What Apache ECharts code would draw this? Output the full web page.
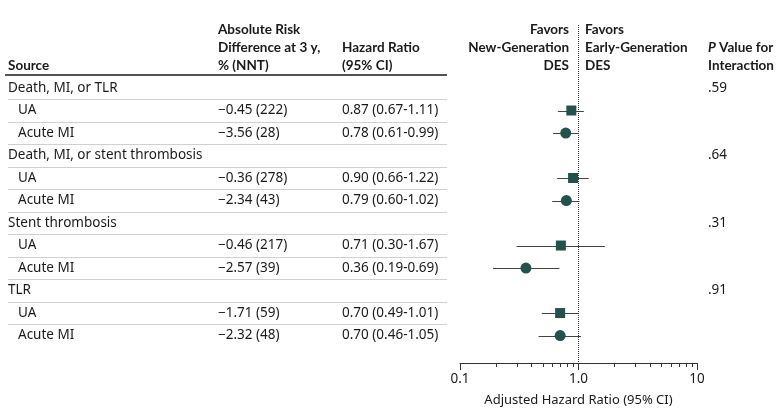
<!DOCTYPE html>
<html>
<head>
<meta charset="utf-8">
<script src="https://cdn.jsdelivr.net/npm/echarts@6/dist/echarts.min.js"></script>
<style>
html, body { margin: 0; padding: 0; background: #fff; }
#chartmain { width: 783px; height: 419px; }
</style>
</head>
<body>
<div id="chartmain"></div>
<script>
// data
var groups = ['Death, MI, or TLR', 'Death, MI, or stent thrombosis', 'Stent thrombosis', 'TLR'];
var pValues = ['.59', '.64', '.31', '.91'];
var subgroups = ['UA', 'Acute MI'];
var ardUA = ['\u22120.45 (222)', '\u22120.36 (278)', '\u22120.46 (217)', '\u22121.71 (59)'];
var ardAMI = ['\u22123.56 (28)', '\u22122.34 (43)', '\u22122.57 (39)', '\u22122.32 (48)'];
var hrUA = [0.87, 0.90, 0.71, 0.70];
var loUA = [0.67, 0.66, 0.30, 0.49];
var hiUA = [1.11, 1.22, 1.67, 1.01];
var hrAMI = [0.78, 0.79, 0.36, 0.70];
var loAMI = [0.61, 0.60, 0.19, 0.46];
var hiAMI = [0.99, 1.02, 0.69, 1.05];
var minorTicks = [0.2, 0.3, 0.4, 0.5, 0.6, 0.7, 0.8, 0.9, 2, 3, 4, 5, 6, 7, 8, 9];

var FONT = '"Noto Sans", sans-serif';
var HFONT = 'Lato, "Noto Sans", sans-serif';
var FS = 13.5;
var TXT = '#1a1a1a';
var MARK = '#24514d';
var yTop = -2.8, yAxisPos = 12.22;

function fmt(v) { return v.toFixed(2); }

// build table rows
var rows = [];
groups.forEach(function(g, i) {
	rows.push({ row: 3 * i, label: g, group: true, p: pValues[i] });
	rows.push({ row: 3 * i + 1, label: subgroups[0], ard: ardUA[i],
		hr: fmt(hrUA[i]) + ' (' + fmt(loUA[i]) + '-' + fmt(hiUA[i]) + ')' });
	rows.push({ row: 3 * i + 2, label: subgroups[1], ard: ardAMI[i],
		hr: fmt(hrAMI[i]) + ' (' + fmt(loAMI[i]) + '-' + fmt(hiAMI[i]) + ')' });
});

var ptsUA = [], ptsAMI = [], ciData = [];
for (var i = 0; i < groups.length; i++) {
	ptsUA.push([hrUA[i], 3 * i + 1]);
	ptsAMI.push([hrAMI[i], 3 * i + 2]);
	ciData.push([loUA[i], hiUA[i], 3 * i + 1]);
	ciData.push([loAMI[i], hiAMI[i], 3 * i + 2]);
}

function txt(text, x, y, opts) {
	opts = opts || {};
	var head = opts.weight === 'bold';
	return {
		type: 'text',
		style: {
			text: text, x: x, y: y,
			fill: TXT,
			font: head ? 'bold 13.5px ' + HFONT : 'normal ' + FS + 'px ' + FONT,
			align: opts.align || 'left',
			verticalAlign: 'middle',
			rich: opts.rich
		}
	};
}

var option = {
	animation: false,
	grid: { left: 460, right: 86, top: 25, bottom: 56 },
	xAxis: {
		type: 'log', logBase: 10, min: 0.1, max: 10,
		axisLine: { onZero: false, lineStyle: { color: '#333', width: 1 } },
		axisTick: { show: true, length: 7, lineStyle: { color: '#333' } },
		splitLine: { show: false },
		axisLabel: {
			color: TXT, fontSize: FS, fontFamily: FONT, margin: 9,
			formatter: function(v) { return v === 1 ? '1.0' : String(v); }
		},
		name: 'Adjusted Hazard Ratio (95% CI)',
		nameLocation: 'middle', nameGap: 31,
		nameTextStyle: { color: TXT, fontSize: 13, fontFamily: FONT }
	},
	yAxis: {
		type: 'value', inverse: true, min: yTop, max: yAxisPos,
		show: false
	},
	series: [
		{
			// table text, separators and header
			type: 'custom', clip: false, silent: true,
			data: rows.map(function(r) { return [1, r.row]; }),
			renderItem: function(params, api) {
				var r = rows[params.dataIndex];
				var y = api.coord([1, r.row])[1];
				var step = api.size([0, 1])[1];
				var children = [];
				if (r.group) {
					children.push(txt(r.label, 8, y));
					children.push(txt(r.p, 708, y));
				} else {
					children.push(txt(r.label, 18, y));
					children.push(txt(r.ard, 218, y));
					children.push(txt(r.hr, 342, y));
				}
				if (r.row < rows.length - 1) {
					var ys = Math.round(y + step * 0.49) + 0.5;
					children.push({ type: 'line', shape: { x1: 8, y1: ys, x2: 447, y2: ys },
						style: { stroke: '#d0d0d0', lineWidth: 1 } });
				}
				if (r.row === 0) {
					var yh = y - step * 0.58;
					children.push({ type: 'line', shape: { x1: 5, y1: yh, x2: 447, y2: yh },
						style: { stroke: '#1a1a1a', lineWidth: 1.6 } });
					var l1 = y - step * 2.58, l2 = y - step * 1.78, l3 = y - step * 1.0;
					children.push(txt('Source', 8, l3, { weight: 'bold' }));
					children.push(txt('Absolute Risk', 218, l1, { weight: 'bold' }));
					children.push(txt('Difference at 3 y,', 218, l2, { weight: 'bold' }));
					children.push(txt('% (NNT)', 218, l3, { weight: 'bold' }));
					children.push(txt('Hazard Ratio', 342, l2, { weight: 'bold' }));
					children.push(txt('(95% CI)', 342, l3, { weight: 'bold' }));
					children.push(txt('Favors', 569, l1, { weight: 'bold', align: 'right' }));
					children.push(txt('New-Generation', 569, l2, { weight: 'bold', align: 'right' }));
					children.push(txt('DES', 569, l3, { weight: 'bold', align: 'right' }));
					children.push(txt('Favors', 585, l1, { weight: 'bold' }));
					children.push(txt('Early-Generation', 585, l2, { weight: 'bold' }));
					children.push(txt('DES', 585, l3, { weight: 'bold' }));
					children.push(txt('{i|P} Value for', 708, l2, { weight: 'bold',
						rich: { i: { fontStyle: 'italic', fontWeight: 'bold', fontSize: 13.5, fontFamily: HFONT, fill: TXT } } }));
					children.push(txt('Interaction', 708, l3, { weight: 'bold' }));
				}
				return { type: 'group', children: children };
			}
		},
		{
			// minor ticks on the log axis
			type: 'custom', clip: false, silent: true,
			data: minorTicks.map(function(v) { return [v, yAxisPos]; }),
			renderItem: function(params, api) {
				var p = api.coord([api.value(0), yAxisPos]);
				var x = Math.round(p[0]) + 0.5;
				return { type: 'line', shape: { x1: x, y1: p[1], x2: x, y2: p[1] + 4 },
					style: { stroke: '#333', lineWidth: 1 } };
			}
		},
		{
			// confidence intervals
			type: 'custom', clip: false, silent: true, z: 3,
			data: ciData,
			renderItem: function(params, api) {
				var a = api.coord([api.value(0), api.value(2)]);
				var b = api.coord([api.value(1), api.value(2)]);
				var y = Math.round(a[1]) + 0.5;
				return { type: 'line', shape: { x1: a[0], y1: y, x2: b[0], y2: y },
					style: { stroke: '#444', lineWidth: 1 } };
			},
			markLine: {
				silent: true, symbol: 'none', label: { show: false },
				lineStyle: { color: '#333', type: 'dotted', width: 1 },
				data: [{ xAxis: 1 }]
			}
		},
		{
			name: 'UA', type: 'scatter', symbol: 'rect', symbolSize: 10, z: 5,
			itemStyle: { color: MARK, opacity: 1 },
			data: ptsUA
		},
		{
			name: 'Acute MI', type: 'scatter', symbol: 'circle', symbolSize: 11, z: 5,
			itemStyle: { color: MARK, opacity: 1 },
			data: ptsAMI
		}
	]
};

var myChart = echarts.init(document.getElementById('chartmain'));
myChart.setOption(option);
</script>
</body>
</html>
